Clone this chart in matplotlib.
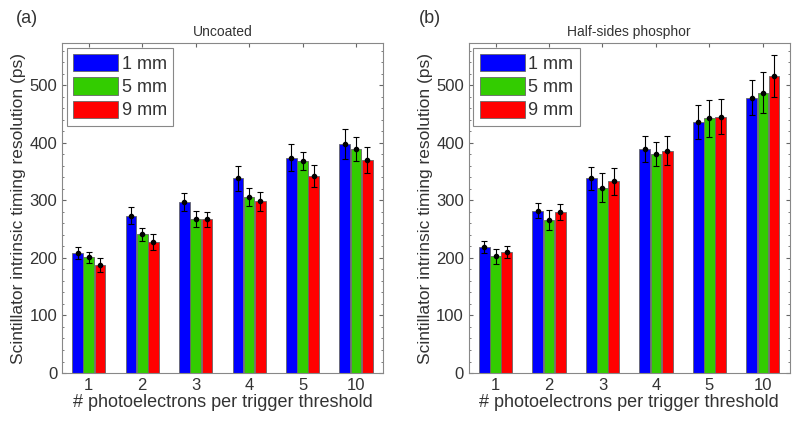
import matplotlib
matplotlib.use('Agg')
import matplotlib.pyplot as plt
import numpy as np
from matplotlib.ticker import MultipleLocator

plt.rcParams['font.family'] = ['Liberation Sans', 'DejaVu Sans']
plt.rcParams['text.color'] = '#333333'
plt.rcParams['axes.labelcolor'] = '#333333'
plt.rcParams['xtick.labelcolor'] = '#333333'
plt.rcParams['ytick.labelcolor'] = '#333333'

thresholds = ['1', '2', '3', '4', '5', '10']
series = ['1 mm', '5 mm', '9 mm']
colors = ['#0000FF', '#33CC00', '#FF0000']

# (a) uncoated
unc_vals = {
    '1 mm': [208, 273, 297, 338, 374, 397],
    '5 mm': [201, 241, 268, 306, 368, 389],
    '9 mm': [187, 227, 267, 298, 342, 370],
}
unc_err = {
    '1 mm': [10, 15, 16, 22, 24, 26],
    '5 mm': [10, 11, 14, 16, 16, 21],
    '9 mm': [12, 14, 13, 16, 19, 23],
}

# (b) half-sides phosphor
hsp_vals = {
    '1 mm': [219, 282, 338, 389, 436, 478],
    '5 mm': [203, 266, 322, 380, 442, 487],
    '9 mm': [210, 280, 333, 386, 445, 516],
}
hsp_err = {
    '1 mm': [10, 13, 20, 22, 30, 30],
    '5 mm': [13, 17, 25, 21, 32, 36],
    '9 mm': [11, 14, 23, 25, 30, 36],
}

fig = plt.figure(figsize=(8, 4.22), dpi=100)
ax1 = fig.add_axes([0.0775, 0.116, 0.401, 0.782])
ax2 = fig.add_axes([0.586, 0.116, 0.401, 0.782])

x = np.arange(1, len(thresholds) + 1)
width = 0.2
offsets = [-0.21, 0.0, 0.21]


def draw(ax, vals, errs, title):
    for s, c, off in zip(series, colors, offsets):
        ax.bar(x + off, vals[s], width, color=c, edgecolor='#666666',
               linewidth=0.6, label=s, zorder=2)
        ax.errorbar(x + off, vals[s], yerr=errs[s], fmt='o', color='black',
                    markersize=3, elinewidth=0.8, capsize=2.5, capthick=0.8,
                    zorder=3)
    ax.set_xlim(0.5, 6.5)
    ax.set_ylim(0, 573)
    ax.set_xticks(x)
    ax.set_xticklabels(thresholds)
    ax.yaxis.set_major_locator(MultipleLocator(100))
    ax.yaxis.set_minor_locator(MultipleLocator(20))
    ax.tick_params(direction='in', top=True, right=True, labelsize=12,
                   color='#666666', length=3)
    ax.tick_params(which='minor', direction='in', right=True, left=True,
                   color='#666666', length=1.5)
    for sp in ax.spines.values():
        sp.set_color('#888888')
    ax.set_title(title, fontsize=10, pad=5)
    ax.set_xlabel('# photoelectrons per trigger threshold', fontsize=13,
                  labelpad=1)
    ax.set_ylabel('Scintillator intrinsic timing resolution (ps)',
                  fontsize=12.5, labelpad=2)
    leg = ax.legend(loc='upper left', fontsize=13, handlelength=2.5,
                    handleheight=1.1, handletextpad=0.2, labelspacing=0.25,
                    borderpad=0.35, borderaxespad=0.25, fancybox=False,
                    edgecolor='#888888', framealpha=1)
    leg.get_frame().set_linewidth(0.8)


draw(ax1, unc_vals, unc_err, 'Uncoated')
draw(ax2, hsp_vals, hsp_err, 'Half-sides phosphor')

fig.text(0.02, 0.955, '(a)', fontsize=13, va='center', ha='left')
fig.text(0.523, 0.955, '(b)', fontsize=13, va='center', ha='left')

fig.savefig('out.png', dpi=100, facecolor='white')
